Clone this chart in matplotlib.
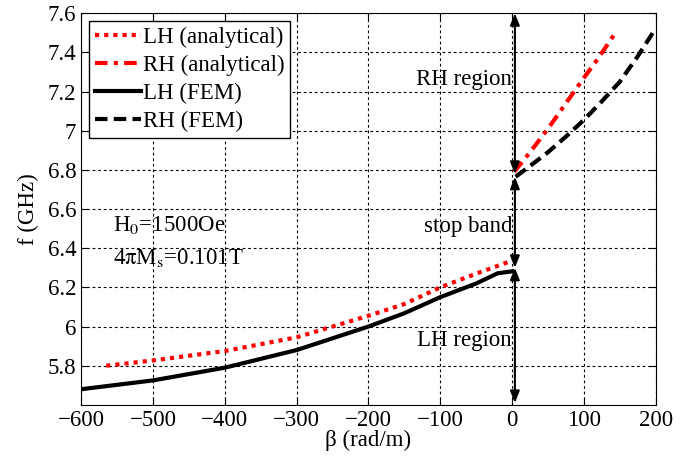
import numpy as np
from matplotlib import pyplot as plt

plt.rcParams['font.family'] = ['Liberation Serif', 'DejaVu Serif']
plt.rcParams['mathtext.fontset'] = 'stix'

# LH branch, analytical and FEM
lh_an_beta = [-565, -500, -400, -300, -200, -150, -100, -50, -5]
lh_an_f = [5.80, 5.827, 5.875, 5.945, 6.055, 6.115, 6.20, 6.27, 6.33]
lh_fem_beta = [-600, -500, -400, -300, -200, -150, -100, -50, -20, 0]
lh_fem_f = [5.68, 5.725, 5.79, 5.88, 6.0, 6.068, 6.15, 6.22, 6.272, 6.282]

# RH branch, analytical and FEM
rh_an_beta = [3, 25, 50, 75, 100, 120, 143]
rh_an_f = [6.79, 6.89, 7.01, 7.14, 7.27, 7.37, 7.495]
rh_fem_beta = [5, 25, 50, 75, 100, 125, 150, 175, 196]
rh_fem_f = [6.765, 6.82, 6.89, 6.97, 7.055, 7.15, 7.25, 7.38, 7.50]

x_ticks = [-600, -500, -400, -300, -200, -100, 0, 100, 200]
y_ticks = [5.8, 6.0, 6.2, 6.4, 6.6, 6.8, 7.0, 7.2, 7.4, 7.6]
y_ticklabels = ['5.8', '6', '6.2', '6.4', '6.6', '6.8', '7', '7.2', '7.4', '7.6']

# region arrows (low, high) and labels
arrow_x = 4
regions = [(6.78, 7.6), (6.30, 6.765), (5.61, 6.30)]
region_labels = ['RH region', 'stop band', 'LH region']
region_label_y = [7.26, 6.51, 5.93]

fs = 16.5
fig = plt.figure(figsize=(6.99, 4.57), dpi=100)
ax = fig.add_axes([0.116, 0.114, 0.822, 0.857])

ax.plot(lh_an_beta, lh_an_f, color='red', ls=(0, (1, 1.2)), lw=3, label='LH (analytical)')
ax.plot(rh_an_beta, rh_an_f, color='red', ls=(0, (3, 1.5, 1, 1.5)), lw=3, label='RH (analytical)')
ax.plot(lh_fem_beta, lh_fem_f, color='black', ls='-', lw=3, label='LH (FEM)')
ax.plot(rh_fem_beta, rh_fem_f, color='black', ls=(0, (3, 1.5)), lw=3, label='RH (FEM)')

for (lo, hi), lab, ly in zip(regions, region_labels, region_label_y):
    ax.annotate('', xy=(arrow_x, hi), xytext=(arrow_x, lo),
                arrowprops=dict(arrowstyle='<|-|>,head_length=0.5,head_width=0.2',
                                color='black', lw=1.5, mutation_scale=14,
                                shrinkA=0, shrinkB=0))
    ax.text(0, ly, lab, ha='right', va='center', fontsize=fs)

ax.text(-555, 6.52, r'H$_\mathrm{0}$=1500Oe', fontsize=fs, va='center')
ax.text(-555, 6.35, r'4$\mathrm{\pi}$M$_\mathrm{s}$=0.101T', fontsize=fs, va='center')

ax.set_xlim(-600, 200)
ax.set_ylim(5.6, 7.6)
ax.set_xticks(x_ticks)
ax.set_yticks(y_ticks)
ax.set_yticklabels(y_ticklabels)
ax.tick_params(direction='in', top=True, right=True, labelsize=fs, length=5)
ax.grid(True, color='black', ls=(0, (2.5, 2.5)), lw=0.8)

ax.set_xlabel('β (rad/m)', fontsize=fs, labelpad=-1)
ax.set_ylabel('f (GHz)', fontsize=fs, labelpad=6)

leg = ax.legend(loc='upper left', fontsize=fs, handlelength=2.0, handletextpad=0.1,
                borderaxespad=0.35, borderpad=0.25, labelspacing=0.3, fancybox=False,
                framealpha=1, edgecolor='black')
leg.get_frame().set_linewidth(1.0)

plt.savefig('out.png', dpi=100)
